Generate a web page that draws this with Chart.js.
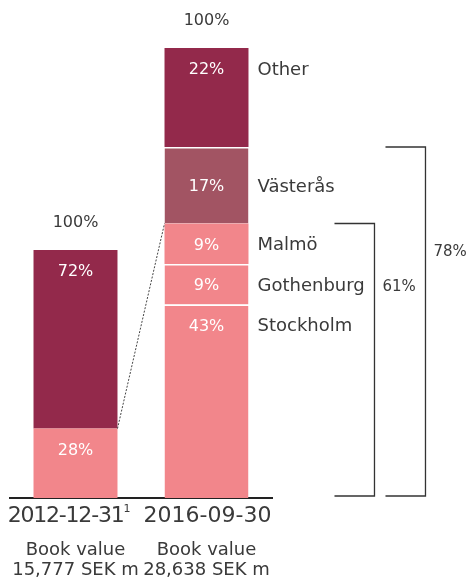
<!DOCTYPE html>
<html>
<head>
<meta charset="utf-8">
<script src="https://cdn.jsdelivr.net/npm/chart.js@4"></script>
<style>
  body { margin: 0; background: #fff; }
  canvas { display: block; }
</style>
</head>
<body>
<canvas id="grafico" width="472" height="581"></canvas>
<script>
const ctx = document.getElementById('grafico');

// data
let categories = ['2012-12-31¹', '2016-09-30']
let bookValues = [15777, 28638]          // SEK m
let stockholm = [28, 43]                 // share of book value, %
let gothenburg = [null, 9]
let malmo = [null, 9]
let vasteras = [null, 17]
let other = [72, 22]
let groupTotals = [61, 78]               // Stockholm+Gothenburg+Malmö, plus Västerås

const FONT = '"DejaVu Sans"'
const TXT = '#3a3a3a'

// shares -> SEK m so each bar's height follows its book value
const toSek = arr => arr.map((v, i) => v == null ? null : v * bookValues[i] / 100)

const ds = (label, shares, color, labelAt, divider) => ({
  label: label,
  data: toSek(shares),
  shares: shares,
  backgroundColor: color,
  borderColor: '#fff',
  borderWidth: c => (divider && c.dataIndex === 1) ? {top: 1.5, left: 0, right: 0, bottom: 0} : 0,
  borderSkipped: false,
  labelAt: labelAt
})

const labels = {
  id: 'labels',
  afterDatasetsDraw(chart) {
    const c = chart.ctx
    const x = chart.scales.x, y = chart.scales.y
    c.save()
    c.textAlign = 'center'
    c.textBaseline = 'middle'

    // segment labels
    chart.data.datasets.forEach((d, di) => {
      chart.getDatasetMeta(di).data.forEach((el, i) => {
        if (d.shares[i] == null) return
        const h = el.base - el.y
        const ly = d.labelAt === 'top' ? el.y + 22 : el.y + h / 2 + 2
        c.font = '16px ' + FONT
        c.fillStyle = '#fff'
        c.textAlign = 'center'
        c.fillText(d.shares[i] + '%', el.x, ly)
        if (i === 1) {
          c.font = '18px ' + FONT
          c.fillStyle = TXT
          c.textAlign = 'left'
          c.fillText(d.label, el.x + el.width / 2 + 9, ly)
        }
      })
    })

    // 100% above each stack
    c.font = '16px ' + FONT
    c.fillStyle = TXT
    c.textAlign = 'center'
    categories.forEach((cat, i) => {
      const top = y.getPixelForValue(bookValues[i])
      c.fillText('100%', x.getPixelForValue(i), top - 27)
    })

    // dotted connector from the first bar's big-city share to the second
    const m0 = chart.getDatasetMeta(0).data[0]
    const mal = chart.getDatasetMeta(2).data[1]
    const vas = chart.getDatasetMeta(3).data[1]
    c.strokeStyle = '#444'
    c.lineWidth = 1
    c.setLineDash([2, 1.5])
    c.beginPath()
    c.moveTo(m0.x + m0.width / 2, m0.y)
    c.lineTo(mal.x - mal.width / 2, mal.y)
    c.stroke()
    c.setLineDash([])

    // brackets
    const right = mal.x + mal.width / 2
    const bottom = y.getPixelForValue(0) - 2
    const brackets = [
      {top: mal.y, x0: right + 86, x1: right + 126, ly: 0.235},
      {top: vas.y, x0: right + 137, x1: right + 177, ly: 0.3}
    ]
    c.strokeStyle = '#333'
    c.lineWidth = 1.3
    brackets.forEach((b, i) => {
      c.beginPath()
      c.moveTo(b.x0, b.top)
      c.lineTo(b.x1, b.top)
      c.lineTo(b.x1, bottom)
      c.lineTo(b.x0, bottom)
      c.stroke()
      c.font = '15px ' + FONT
      c.textAlign = 'left'
      c.fillText(groupTotals[i] + '%', b.x1 + 8, b.top + (bottom - b.top) * b.ly)
    })

    // category labels (footnote mark as small superscript) and book values
    categories.forEach((cat, i) => {
      const cx = x.getPixelForValue(i)
      const sup = cat.endsWith('¹')
      const main = sup ? cat.slice(0, -1) : cat
      c.font = '22px ' + FONT
      if (sup) {
        c.letterSpacing = '-1.2px'
        c.textAlign = 'right'
        c.fillText(main, cx + 48, 516)
        c.letterSpacing = '0px'
        c.font = '11px ' + FONT
        c.textAlign = 'left'
        c.fillText('1', cx + 48, 509)
      } else {
        c.textAlign = 'center'
        c.fillText(main, cx + 1, 516)
      }
      c.textAlign = 'center'
      c.font = '18px ' + FONT
      c.fillText('Book value', cx, 550)
      c.fillText(bookValues[i].toLocaleString('en-US') + ' SEK m', cx, 570)
    })
    c.restore()
  }
}

let grafico = new Chart(ctx, {
  type: 'bar',
  data: {
    labels: categories,
    datasets: [
      ds('Stockholm', stockholm, '#f2868b', 'top', true),
      ds('Gothenburg', gothenburg, '#f2868b', 'center', true),
      ds('Malmö', malmo, '#f2868b', 'center', false),
      ds('Västerås', vasteras, '#a25463', 'center', true),
      ds('Other', other, '#93294b', 'top', false)
    ]
  },
  options: {
    responsive: false,
    animation: false,
    devicePixelRatio: 1,
    layout: { padding: { left: 10, right: 200, top: 48, bottom: 75 } },
    datasets: { bar: { categoryPercentage: 1, barPercentage: 0.641 } },
    plugins: { legend: { display: false }, tooltip: { enabled: false } },
    scales: {
      x: {
        stacked: true,
        grid: { display: false },
        ticks: { display: false },
        border: { display: true, color: '#222', width: 2 }
      },
      y: {
        stacked: true,
        display: false,
        min: 0,
        max: bookValues[1]
      }
    }
  },
  plugins: [labels]
});
</script>
</body>
</html>
